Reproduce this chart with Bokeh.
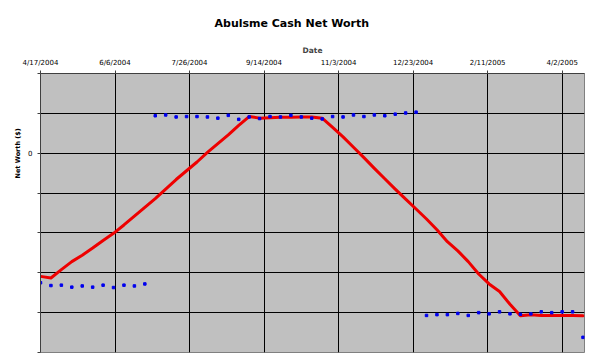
import pandas as pd
from bokeh.plotting import figure
from bokeh.models import FixedTicker, Range1d, Title
from bokeh.embed import file_html
from bokeh.resources import INLINE

# ---- data ----
start_date = "2004-04-17"
end_date = "2005-04-17"
n_weeks = 53
dot_values = [
    -3.25, -3.32, -3.31, -3.36, -3.33, -3.36, -3.31, -3.37, -3.31, -3.33, -3.28,
    0.94, 0.96, 0.91, 0.92, 0.92, 0.91, 0.88, 0.95, 0.85, 0.91, 0.87, 0.92, 0.91,
    0.95, 0.91, 0.88, 0.86, 0.92, 0.91, 0.96, 0.92, 0.96, 0.94, 0.98, 1.01, 1.03,
    -4.07, -4.05, -4.05, -4.02, -4.07, -4.00, -4.03, -3.98, -4.03, -4.04, -4.03,
    -3.98, -4.00, -3.98, -3.98, -4.62,
]
trend_values = [
    -3.09, -3.13, -2.92, -2.72, -2.56, -2.38, -2.19, -2.01, -1.80, -1.58,
    -1.36, -1.14, -0.90, -0.66, -0.44, -0.22, 0.02, 0.24, 0.46, 0.70,
    0.92, 0.88, 0.89, 0.90, 0.90, 0.91, 0.91, 0.88, 0.65, 0.41,
    0.15, -0.11, -0.38, -0.64, -0.90, -1.15, -1.40, -1.65, -1.92, -2.22,
    -2.45, -2.72, -3.03, -3.28, -3.47, -3.79, -4.08, -4.05, -4.07, -4.07,
    -4.07, -4.07, -4.08,
]
tick_dates = ["2004-04-17", "2004-06-06", "2004-07-26", "2004-09-14",
              "2004-11-03", "2004-12-23", "2005-02-11", "2005-04-02"]
tick_labels = ["4/17/2004", "6/6/2004", "7/26/2004", "9/14/2004",
               "11/3/2004", "12/23/2004", "2/11/2005", "4/2/2005"]
y_ticks = [-5, -4, -3, -2, -1, 0, 1, 2]
y_labels = ["", "", "", "", "", "0", "", ""]

dates = pd.date_range(start_date, periods=n_weeks, freq="7D")

def ms(d):
    return int(pd.Timestamp(d).value // 10**6)

FONT = "DejaVu Sans"

p = figure(
    x_axis_type="datetime", x_axis_location="above",
    frame_width=544, frame_height=279,
    min_border_left=40, min_border_right=4, min_border_top=73, min_border_bottom=4,
    output_backend="svg", toolbar_location=None,
    x_range=Range1d(ms(start_date), ms(end_date)),
    y_range=Range1d(-5, 2),
)
p.title.visible = False
p.background_fill_color = "#c0c0c0"
p.border_fill_color = "#ffffff"
p.outline_line_color = "#808080"

t = Title(text="Abulsme Cash Net Worth", align="left", offset=174,
          text_font=FONT, text_font_size="11px", text_font_style="bold",
          text_color="#000000", standoff=26)
p.add_layout(t, "above")

yl = Title(text="Net Worth ($)", align="left", offset=174,
           text_font=FONT, text_font_size="6.5px", text_font_style="bold",
           text_color="#000000", standoff=7)
p.add_layout(yl, "left")

# x axis
xt = [ms(d) for d in tick_dates]
p.xaxis.ticker = FixedTicker(ticks=xt)
p.xaxis.major_label_overrides = {v: l for v, l in zip(xt, tick_labels)}
p.xaxis.axis_label = "Date"
p.xaxis.axis_label_text_font = FONT
p.xaxis.axis_label_text_font_size = "7.5px"
p.xaxis.axis_label_text_font_style = "bold"
p.xaxis.axis_label_standoff = 1
p.xaxis.major_label_text_font = FONT
p.xaxis.major_label_text_font_size = "7px"
p.xaxis.major_label_standoff = 4

# y axis
p.yaxis.ticker = FixedTicker(ticks=y_ticks)
p.yaxis.major_label_overrides = {v: l for v, l in zip(y_ticks, y_labels)}
p.yaxis.major_label_text_font = FONT
p.yaxis.major_label_text_font_size = "7px"
p.yaxis.major_label_standoff = 5

for ax in (p.xaxis, p.yaxis):
    ax.axis_line_color = "#404040"
    ax.major_tick_line_color = "#404040"
    ax.major_tick_out = 3
    ax.major_tick_in = 0
    ax.minor_tick_line_color = None
    ax.major_label_text_color = "#000000"

p.xgrid.grid_line_color = "#000000"
p.ygrid.grid_line_color = "#000000"
p.xgrid.grid_line_width = 1
p.ygrid.grid_line_width = 1

p.line(dates, trend_values, line_color="#ee0000", line_width=3,
       line_join="round", line_cap="round")
p.scatter(dates, dot_values, marker="square", size=2.5, fill_color="#0000ee",
          line_color="#0000ee")

open("out.html", "w").write(file_html(p, INLINE))
